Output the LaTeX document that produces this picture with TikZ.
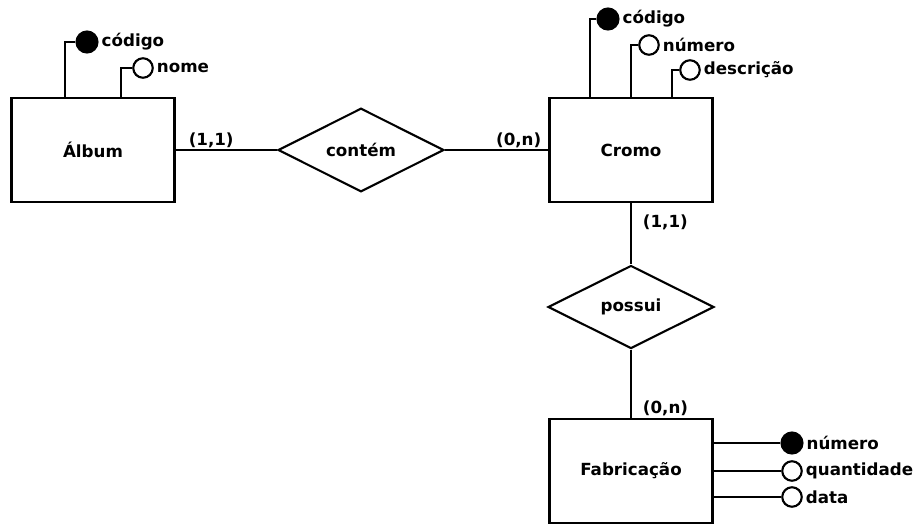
\documentclass[tikz,border=0pt]{standalone}
\usepackage{fontspec}
\setmainfont{DejaVu Sans}
\usepackage{tikz}
\usetikzlibrary{
	calc,											% 坐标计算
	positioning,									% 节点的高级摆放
	shapes.geometric,								% 几何形状
}

\begin{document}
\begin{tikzpicture}[x=0.2mm,y=-0.2mm,line width=1.2pt,
		font=\fontsize{9.5}{11}\selectfont\bfseries,
		entity/.style={draw,rectangle,line width=1.5pt,minimum width=32.6mm,minimum height=20.8mm,inner sep=0pt},
		relation/.style={draw,diamond,minimum width=33.2mm,minimum height=16.6mm,inner sep=0pt},
		keyattr/.style={draw,circle,fill=black,minimum size=4.2mm,inner sep=0pt},
		attr/.style={draw,circle,fill=white,minimum size=3.9mm,inner sep=0pt},
		attrname/.style={right=0pt of #1,inner sep=1.2pt},
		card/.style={inner sep=0.5pt}]
		\useasboundingbox (0,0) rectangle (917,524);
		% 实体与联系
		\node[entity] (album) at (93,150) {Álbum};
		\node[relation] (contem) at (361,150) {contém};
		\node[entity] (cromo) at (631,150) {Cromo};
		\node[relation] (possui) at (631,307) {possui};
		\node[entity] (fab) at (631,471) {Fabricação};
		\draw (album.east) -- (contem.west);
		\draw (contem.east) -- (cromo.west);
		\draw (cromo.south) -- (possui.north);
		\draw (possui.south) -- (fab.north);
		% 基数
		\node[card,above right=0pt and 2.2mm of album.east] (c11a) {(1,1)};
		\node[card,above left=0pt and 1mm of cromo.west] (c0na) {(0,n)};
		\node[card,below right=2mm and 2mm of cromo.south] (c11b) {(1,1)};
		\node[card,above right=0pt and 2mm of fab.north] (c0nb) {(0,n)};
		% Álbum 的属性
		\node[keyattr] (acod) at (87,42) {};
		\node[attrname=acod] (acodl) {código};
		\node[attr] (anome) at (143,68) {};
		\node[attrname=anome] (anomel) {nome};
		\draw (acod.west) -| ($(album.north west)!1/3!(album.north east)$);
		\draw (anome.west) -| ($(album.north west)!2/3!(album.north east)$);
		% Cromo 的属性
		\node[keyattr] (ccod) at (608,19) {};
		\node[attrname=ccod] (ccodl) {código};
		\node[attr] (cnum) at (649,45) {};
		\node[attrname=cnum] (cnuml) {número};
		\node[attr] (cdesc) at (690,70) {};
		\node[attrname=cdesc] (cdescl) {descrição};
		\draw (ccod.west) -| ($(cromo.north west)!1/4!(cromo.north east)$);
		\draw (cnum.west) -| (cromo.north);
		\draw (cdesc.west) -| ($(cromo.north west)!3/4!(cromo.north east)$);
		% Fabricação 的属性
		\node[keyattr] (fnum) at (792,443) {};
		\node[attrname=fnum] (fnuml) {número};
		\node[attr] (fqtd) at (792,471) {};
		\node[attrname=fqtd] (fqtdl) {quantidade};
		\node[attr] (fdata) at (792,497) {};
		\node[attrname=fdata] (fdatal) {data};
		\draw (fnum.west) -- (fnum.west -| fab.east);
		\draw (fqtd.west) -- (fqtd.west -| fab.east);
		\draw (fdata.west) -- (fdata.west -| fab.east);
	\end{tikzpicture}
\end{document}
